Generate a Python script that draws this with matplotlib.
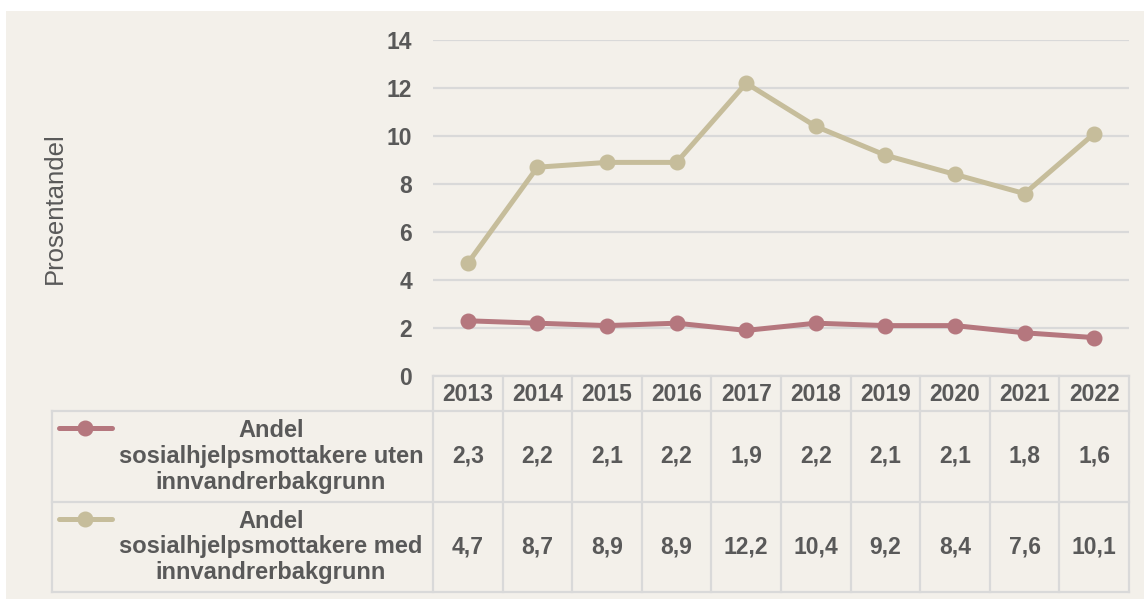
import matplotlib.pyplot as plt
from matplotlib.patches import Rectangle
from matplotlib.lines import Line2D
from matplotlib.transforms import blended_transform_factory

# data
years = ["2013", "2014", "2015", "2016", "2017", "2018", "2019", "2020", "2021", "2022"]
uten = [2.3, 2.2, 2.1, 2.2, 1.9, 2.2, 2.1, 2.1, 1.8, 1.6]
med = [4.7, 8.7, 8.9, 8.9, 12.2, 10.4, 9.2, 8.4, 7.6, 10.1]
series_names = ["Andel\nsosialhjelpsmottakere uten\ninnvandrerbakgrunn",
                "Andel\nsosialhjelpsmottakere med\ninnvandrerbakgrunn"]
y_ticks = [0, 2, 4, 6, 8, 10, 12, 14]

plt.rcParams['font.family'] = ['Liberation Sans', 'DejaVu Sans']

W, H = 1144, 599
BG = "#F3F0EA"
GRID = "#D9D9D9"
TXT = "#595959"
colors = ["#B5777E", "#C6BD9B"]
FS = 16.5
LW, MS = 3.6, 10.5

fig = plt.figure(figsize=(W / 100, H / 100), dpi=100, facecolor="white")
fig.patches.append(Rectangle((6 / W, 0), 1 - 6 / W, 1 - 11 / H, transform=fig.transFigure,
                             facecolor=BG, edgecolor="none", zorder=-5))

x0, x1, ytop, ybot = 433, 1129, 40, 376
ax = fig.add_axes([x0 / W, 1 - ybot / H, (x1 - x0) / W, (ybot - ytop) / H])
ax.set_facecolor("none")

xs = list(range(len(years)))
for vals, c in zip([uten, med], colors):
    ax.plot(xs, vals, color=c, lw=LW, marker="o", ms=MS, solid_capstyle="round",
            solid_joinstyle="round", zorder=3)

ax.set_xlim(-0.5, len(years) - 0.5)
ax.set_ylim(0, 14)
ax.set_yticks(y_ticks)
ax.set_yticklabels([str(t) for t in y_ticks], fontsize=FS, fontweight="bold", color=TXT)
ax.tick_params(axis="y", length=0, pad=15)
ax.set_xticks([])
ax.yaxis.grid(True, color=GRID, lw=1.6)
ax.set_axisbelow(True)
for s in ax.spines.values():
    s.set_visible(False)

fig.text(55 / W, 1 - 208 / H, "Prosentandel", rotation=90, ha="center", va="center",
         fontsize=18.5, color=TXT)

# data table below the axes
def fy(px):
    return 1 - px / H

def fx(px):
    return px / W

row_y = [376, 411, 502, 592]
tc = dict(transform=fig.transFigure, color=GRID, lw=1.6, zorder=1)
bt = blended_transform_factory(ax.transData, fig.transFigure)

# horizontal lines
fig.add_artist(Line2D([fx(x0), fx(x1)], [fy(row_y[0])] * 2, **tc))
for yy in row_y[1:]:
    fig.add_artist(Line2D([fx(52), fx(x1)], [fy(yy)] * 2, **tc))
# vertical lines
fig.add_artist(Line2D([fx(52), fx(52)], [fy(row_y[1]), fy(row_y[3])], **tc))
for i in range(len(years) + 1):
    xv = i - 0.5
    fig.add_artist(Line2D([xv, xv], [fy(row_y[0]), fy(row_y[3])],
                          transform=bt, color=GRID, lw=1.6, zorder=1))

# header
for i, yr in enumerate(years):
    fig.text(i, fy((row_y[0] + row_y[1]) / 2 + 1), yr, transform=bt, ha="center", va="center",
             fontsize=FS, fontweight="bold", color=TXT)

# rows
for r, (vals, name, c) in enumerate(zip([uten, med], series_names, colors)):
    yc = (row_y[r + 1] + row_y[r + 2]) / 2
    for i, v in enumerate(vals):
        fig.text(i, fy(yc), f"{v:.1f}".replace(".", ","), transform=bt, ha="center",
                 va="center", fontsize=FS, fontweight="bold", color=TXT)
    fig.text(fx(271), fy(yc), name, ha="center", va="center", fontsize=17,
             fontweight="bold", color=TXT, linespacing=1.15, multialignment="center")
    ly = fy(row_y[r + 1] + 17)
    fig.add_artist(Line2D([fx(59), fx(112)], [ly, ly], transform=fig.transFigure, color=c,
                          lw=LW, solid_capstyle="round", zorder=2))
    fig.add_artist(Line2D([fx(85)], [ly], transform=fig.transFigure, color=c, marker="o",
                          ms=MS, lw=0, zorder=2))

fig.savefig("out.png", dpi=100, facecolor="white")
